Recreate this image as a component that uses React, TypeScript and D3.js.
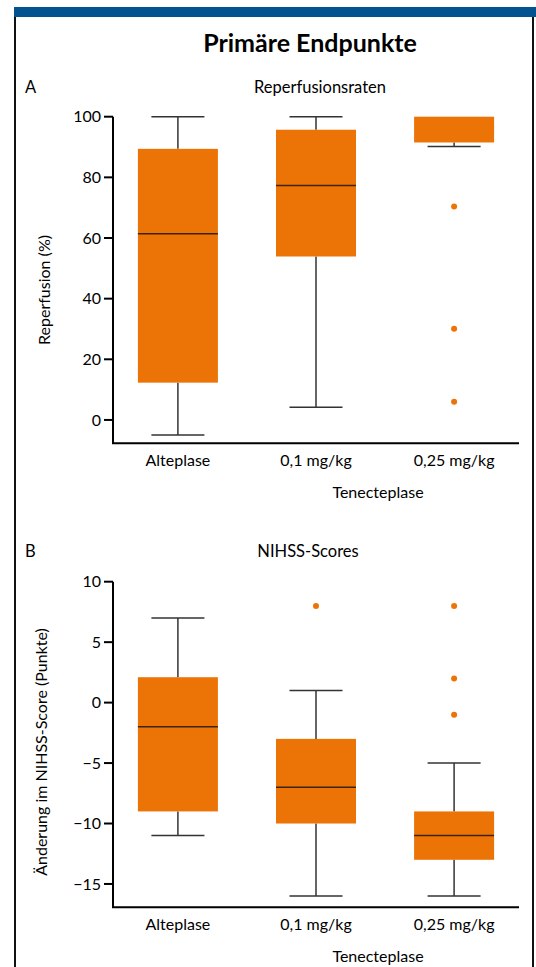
import React from 'react';
import * as d3 from 'd3';

// groups on the x axis
const categories = ['Alteplase', '0,1 mg/kg', '0,25 mg/kg'];

// box stats: [lower whisker, q1, median, q3, upper whisker]
const reperfusionStats = [
  [-5, 12.3, 61.4, 89.4, 100],
  [4.2, 53.9, 77.3, 95.7, 100],
  [90.2, 91.5, 100, 100, 100],
];
const reperfusionOutliers = [[], [], [70.4, 30.1, 6]];
const reperfusionTicks = [0, 20, 40, 60, 80, 100];

const nihssStats = [
  [-11, -9, -2, 2.1, 7],
  [-16, -10, -7, -3, 1],
  [-16, -13, -11, -9, -5],
];
const nihssOutliers = [[], [8], [8, 2, -1]];
const nihssTicks = [-15, -10, -5, 0, 5, 10];

const ORANGE = '#ec7406';
const FONT = 'Lato, "Open Sans", sans-serif';

const fmt = (v: number) => (v < 0 ? '\u2212' + Math.abs(v) : String(v));

type PanelProps = {
  letter: string;
  title: string;
  titleX: number;
  top: number;
  yDomain: [number, number];
  yRange: [number, number];
  stats: number[][];
  outliers: number[][];
  ticks: number[];
  yLabel: string;
  yLabelX: number;
  yLabelY: number;
};

const Panel = (p: PanelProps) => {
  const left = 113;
  const right = 519;
  const x = d3.scalePoint().domain(categories).range([left, right]).padding(0.47);
  const y = d3.scaleLinear().domain(p.yDomain).range(p.yRange);
  const boxW = 80;
  const capW = 53;
  const bottom = p.yRange[0];
  const axisTop = y(p.ticks[p.ticks.length - 1]);

  return (
    <g>
      <text x={25} y={p.top} fontSize={16.5} fontFamily={FONT}>{p.letter}</text>
      <text x={p.titleX} y={p.top} fontSize={16.5} fontFamily={FONT} textAnchor="middle">{p.title}</text>

      {categories.map((c, i) => {
        const [lo, q1, med, q3, hi] = p.stats[i];
        const cx = x(c) as number;
        return (
          <g key={c}>
            {hi > q3 && <line x1={cx} x2={cx} y1={y(hi)} y2={y(q3)} stroke="#333" strokeWidth={1.5} />}
            <line x1={cx} x2={cx} y1={y(q1)} y2={y(lo)} stroke="#333" strokeWidth={1.5} />
            {hi > q3 && (
              <line x1={cx - capW / 2} x2={cx + capW / 2} y1={y(hi)} y2={y(hi)} stroke="#333" strokeWidth={1.5} />
            )}
            <line x1={cx - capW / 2} x2={cx + capW / 2} y1={y(lo)} y2={y(lo)} stroke="#333" strokeWidth={1.5} />
            <rect x={cx - boxW / 2} y={y(q3)} width={boxW} height={y(q1) - y(q3)} fill={ORANGE} />
            {med < q3 && (
              <line x1={cx - boxW / 2} x2={cx + boxW / 2} y1={y(med)} y2={y(med)} stroke="#3a2410" strokeWidth={1.5} />
            )}
            {p.outliers[i].map((o, j) => (
              <circle key={j} cx={cx} cy={y(o)} r={3} fill={ORANGE} />
            ))}
          </g>
        );
      })}

      {/* axes */}
      <path d={`M${left},${axisTop}V${bottom}H${right}`} fill="none" stroke="#000" strokeWidth={2} />
      {p.ticks.map((t) => (
        <g key={t}>
          <line x1={left - 9} x2={left} y1={y(t)} y2={y(t)} stroke="#000" strokeWidth={2} />
          <text x={left - 12} y={y(t)} dy="0.35em" textAnchor="end" fontSize={16} fontFamily={FONT}>{fmt(t)}</text>
        </g>
      ))}
      {categories.map((c) => (
        <text key={c} x={x(c) as number} y={bottom + 23} textAnchor="middle" fontSize={16} fontFamily={FONT}>{c}</text>
      ))}
      <text x={378} y={bottom + 55} textAnchor="middle" fontSize={16} fontFamily={FONT}>Tenecteplase</text>
      <text
        transform={`translate(${p.yLabelX},${p.yLabelY}) rotate(-90)`}
        textAnchor="middle"
        fontSize={16}
        fontFamily={FONT}
      >
        {p.yLabel}
      </text>
    </g>
  );
};

export default function App() {
  return (
    <div style={{ position: 'absolute', left: 0, top: 0 }}>
      <svg width={536} height={967} style={{ display: 'block' }}>
        <rect x={0} y={0} width={536} height={967} fill="#fff" />
        <rect x={14} y={7} width={522} height={10} fill="#035391" />
        <line x1={15} x2={15} y1={17} y2={967} stroke="#111" strokeWidth={2} />
        <line x1={533} x2={533} y1={17} y2={967} stroke="#111" strokeWidth={2} />
        <text x={310} y={52} textAnchor="middle" fontSize={25} fontWeight="bold" fontFamily={FONT}>
          Primäre Endpunkte
        </text>
        <Panel
          letter="A"
          title="Reperfusionsraten"
          titleX={320}
          top={93}
          yDomain={[-7.7, 100]}
          yRange={[443.3, 116.7]}
          stats={reperfusionStats}
          outliers={reperfusionOutliers}
          ticks={reperfusionTicks}
          yLabel="Reperfusion (%)"
          yLabelX={50}
          yLabelY={290}
        />
        <Panel
          letter="B"
          title="NIHSS-Scores"
          titleX={308}
          top={557}
          yDomain={[-16.93, 10]}
          yRange={[907.3, 581.7]}
          stats={nihssStats}
          outliers={nihssOutliers}
          ticks={nihssTicks}
          yLabel="Änderung im NIHSS-Score (Punkte)"
          yLabelX={47}
          yLabelY={752}
        />
      </svg>
    </div>
  );
}
